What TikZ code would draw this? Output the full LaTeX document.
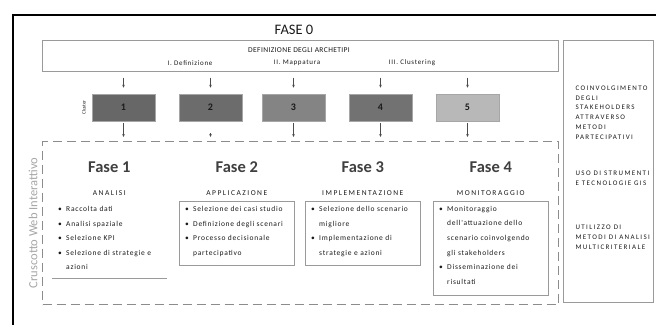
\documentclass[tikz,border=0pt]{standalone}
\usepackage{fontspec}
\setmainfont{Carlito}
\newfontfamily\capsfont[LetterSpace=20]{Carlito}
\newfontfamily\titlefont[LetterSpace=5]{Carlito}
\newfontfamily\itemfont[LetterSpace=10]{Carlito}
\usepackage{xcolor}
\usetikzlibrary{arrows.meta,calc}
\definecolor{frameline}{HTML}{9A9A9A}
\definecolor{dashline}{HTML}{8C8C8C}
\definecolor{clA}{HTML}{676767}
\definecolor{clB}{HTML}{6C6C6C}
\definecolor{clC}{HTML}{848484}
\definecolor{clD}{HTML}{727272}
\definecolor{clE}{HTML}{B8B8B8}
\definecolor{txt}{HTML}{1A1A1A}
\newcommand{\bul}{\makebox[8pt][l]{\textbullet}}
\newcommand{\ind}{\hspace*{8pt}}
\tikzset{
	cluster/.style={rectangle, fill=#1, draw=gray!70, line width=0.5pt,
			minimum width=63pt, minimum height=27pt, inner sep=0pt,
			font=\bfseries\fontsize{10}{10}\selectfont, text=txt},
	arr/.style={-{Stealth[length=3pt,width=2.6pt]}, draw=black!70, line width=0.5pt},
	phasebox/.style={rectangle, draw=frameline, line width=0.6pt, anchor=north west,
			inner sep=0pt, minimum width=115pt},
	dashbox/.style={draw=dashline, line width=1.3pt, dash pattern=on 9pt off 5pt,
			anchor=north west, minimum width=516pt, minimum height=163pt, inner sep=0pt},
	items/.style={anchor=north west, inner xsep=6pt, inner ysep=5pt, align=left,
			font=\itemfont\fontsize{7.5}{14.6}\selectfont, text=txt},
	captext/.style={font=\capsfont\fontsize{7.5}{10}\selectfont, text=txt},
	sidetext/.style={anchor=west, align=left, font=\capsfont\fontsize{7}{9.8}\selectfont, text=txt},
	fase/.style={font=\bfseries\fontsize{16.5}{18}\selectfont, text=black!75}
}

\begin{document}
\begin{tikzpicture}[x=1pt,y=-1pt]
	\useasboundingbox (0,0) rectangle (656,324);
	\draw[line width=2pt] (13,340) -- (13,15) -- (670,15);

	\node[font=\fontsize{14.5}{16}\selectfont, text=txt] (f0) at (294,30) {FASE 0};
	\node[rectangle, draw=frameline, line width=0.6pt, minimum width=516pt, minimum height=31pt,
		inner sep=0pt, anchor=north west] (arch) at (42,40) {};
	\node[font=\titlefont\fontsize{7.5}{10}\selectfont, text=txt] (archT) at (299,50) {DEFINIZIONE DEGLI ARCHETIPI};
	\foreach \n/\x/\lbl in {a/190/I. Definizione, b/297/II. Mappatura, c/412/III. Clustering}
		\node[font=\itemfont\fontsize{7}{8}\selectfont, text=txt] (sub\n) at (\x,63) {\lbl};

	\foreach \i/\x/\c in {1/123.5/clA, 2/210.5/clB, 3/293.5/clC, 4/380.5/clD, 5/467.5/clE}
		\node[cluster=\c] (c\i) at (\x,107.5) {\i};
	\node[rotate=90, font=\fontsize{5}{6}\selectfont, text=txt] (clab) at (84,107.5) {Cluster};

	\node[dashbox] (dash) at (42,141) {};

	\foreach \i in {1,...,5}
		\draw[arr, shorten <=6pt, shorten >=6pt] (arch.south -| c\i) -- (c\i.north);
	\foreach \i/\s in {1/2pt, 2/12pt, 3/2pt, 4/2pt, 5/2pt}
		\draw[arr, shorten <=\s, shorten >=4pt] (c\i.south) -- (c\i.south |- dash.north);

	\node[rotate=90, font=\fontsize{12.5}{14}\selectfont, text=black!35] (crus) at (33,223) {Cruscotto Web Interattivo};

	\node[phasebox, draw=none, minimum width=114pt, minimum height=77pt] (b1) at (52,201) {};
	\draw[draw=frameline, line width=0.8pt] (b1.south west) -- (b1.south east);
	\node[phasebox, minimum height=64pt] (b2) at (179,201) {};
	\node[phasebox, minimum height=64pt] (b3) at (305,201) {};
	\node[phasebox, minimum height=94pt] (b4) at (433,201) {};

	\foreach \i/\h in {1/ANALISI, 2/APPLICAZIONE, 3/IMPLEMENTAZIONE, 4/MONITORAGGIO} {
		\node[fase] (fase\i) at ($(b\i.north)+(0,-34)$) {Fase \i};
		\node[captext] (head\i) at ($(b\i.north)+(0,-8)$) {\h};
	}

	\node[items] (t1) at (b1.north west) {\bul Raccolta dati\\ \bul Analisi spaziale\\ \bul Selezione KPI\\
		\bul Selezione di strategie e\\ \ind azioni};
	\node[items] (t2) at (b2.north west) {\bul Selezione dei casi studio\\ \bul Definizione degli scenari\\
		\bul Processo decisionale\\ \ind partecipativo};
	\node[items] (t3) at (b3.north west) {\bul Selezione dello scenario\\ \ind migliore\\
		\bul Implementazione di\\ \ind strategie e azioni};
	\node[items] (t4) at (b4.north west) {\bul Monitoraggio\\ \ind dell'attuazione dello\\
		\ind scenario coinvolgendo\\ \ind gli stakeholders\\ \bul Disseminazione dei\\ \ind risultati};

	\node[rectangle, draw=frameline, line width=0.6pt, minimum width=90pt, minimum height=262pt,
		anchor=north west, inner sep=0pt] (side) at (563,40) {};
	\node[sidetext] (s1) at (572,112.5) {COINVOLGIMENTO\\DEGLI\\STAKEHOLDERS\\ATTRAVERSO\\METODI\\PARTECIPATIVI};
	\node[sidetext] (s2) at (572,178.5) {USO DI STRUMENTI\\E TECNOLOGIE GIS};
	\node[sidetext] (s3) at (572,237) {UTILIZZO DI\\METODI DI ANALISI\\MULTICRITERIALE};
\end{tikzpicture}
\end{document}
